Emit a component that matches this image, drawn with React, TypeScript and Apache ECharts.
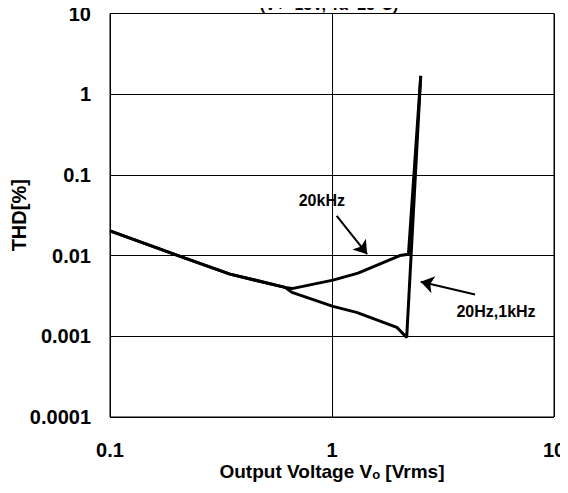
import React, { useEffect, useRef } from "react";
import * as echarts from "echarts";

const commonX = [0.1, 0.207, 0.347, 0.614];
const commonY = [0.0203, 0.0098, 0.0059, 0.00404];
const lowX = [0.66, 1.01, 1.29, 1.96, 2.06, 2.17, 2.51];
const lowY = [0.0035, 0.00235, 0.00198, 0.00129, 0.00112, 0.00097, 1.69];
const highX = [0.66, 1.01, 1.31, 2.02, 2.21, 2.51];
const highY = [0.0039, 0.00497, 0.00607, 0.01, 0.0104, 1.69];
const xTicks = [0.1, 1, 10];
const yTicks = [0.0001, 0.001, 0.01, 0.1, 1, 10];
const labelHigh = "20kHz";
const labelLow = "20Hz,1kHz";
const arrowHigh = [[1.05, 0.0311], [1.44, 0.0104]];
const arrowLow = [[4.41, 0.0033], [2.51, 0.00473]];
const labelHighPos = [0.9, 0.0488];
const labelLowPos = [5.48, 0.00201];

const FONT = "'Liberation Sans', Arial, sans-serif";

function pairs(xs: number[], ys: number[]) {
  return xs.map((x, i) => [x, ys[i]]);
}

export default function App() {
  const ref = useRef<HTMLDivElement>(null);
  useEffect(() => {
    if (!ref.current) return;
    const chart = echarts.init(ref.current, undefined, { renderer: "svg" });
    const fmt = (v: number) => String(+v.toPrecision(6));
    const lineStyle = { color: "#000", width: 3 };
    chart.setOption({
      animation: false,
      backgroundColor: "#fff",
      textStyle: { fontFamily: FONT },
      grid: {
        left: 110,
        right: 14,
        top: 13.5,
        bottom: 76,
        containLabel: false,
        outerBoundsMode: "none",
        show: true,
        borderColor: "#000",
        borderWidth: 1,
      },
      graphic: [
        {
          type: "text",
          x: 329,
          y: 12.5,
          style: {
            text: "(V+=15V, Ta=25°C)",
            font: `bold 16px ${FONT}`,
            fill: "#000",
            align: "center",
            verticalAlign: "bottom",
          },
        },
      ],
      xAxis: {
        type: "log",
        logBase: 10,
        min: xTicks[0],
        max: xTicks[xTicks.length - 1],
        name: "Output Voltage V{s|o} [Vrms]",
        nameLocation: "middle",
        nameGap: 45,
        nameMoveOverlap: false,
        nameTextStyle: {
          fontFamily: FONT,
          fontWeight: "bold",
          fontSize: 19,
          color: "#000",
          rich: {
            s: { fontFamily: FONT, fontWeight: "bold", fontSize: 13, color: "#000", verticalAlign: "bottom" },
          },
        },
        axisLine: { show: false },
        axisTick: { show: false },
        axisLabel: {
          formatter: fmt,
          fontFamily: FONT,
          fontWeight: "bold",
          fontSize: 20,
          color: "#000",
          margin: 23,
        },
        splitLine: { show: true, lineStyle: { color: "#000", width: 1 } },
        minorSplitLine: { show: false },
      },
      yAxis: {
        type: "log",
        logBase: 10,
        min: yTicks[0],
        max: yTicks[yTicks.length - 1],
        name: "THD[%]",
        nameLocation: "middle",
        nameGap: 81,
        nameMoveOverlap: false,
        nameRotate: 90,
        nameTextStyle: {
          fontFamily: FONT,
          fontWeight: "bold",
          fontSize: 20,
          color: "#000",
        },
        axisLine: { show: false },
        axisTick: { show: false },
        axisLabel: {
          formatter: fmt,
          fontFamily: FONT,
          fontWeight: "bold",
          fontSize: 20,
          color: "#000",
          margin: 19,
        },
        splitLine: { show: true, lineStyle: { color: "#000", width: 1 } },
      },
      series: [
        {
          type: "line",
          name: labelLow,
          data: pairs(commonX.concat(lowX), commonY.concat(lowY)),
          showSymbol: false,
          symbol: "none",
          lineStyle,
          markLine: {
            silent: true,
            symbol: ["none", "arrow"],
            symbolSize: 13,
            label: { show: false },
            lineStyle: { color: "#000", width: 2, type: "solid" },
            data: [
              [{ coord: arrowHigh[0] }, { coord: arrowHigh[1] }],
              [{ coord: arrowLow[0] }, { coord: arrowLow[1] }],
            ],
          },
          markPoint: {
            silent: true,
            symbol: "circle",
            symbolSize: 0,
            label: {
              show: true,
              position: "inside",
              fontFamily: FONT,
              fontWeight: "bold",
              fontSize: 16,
              color: "#000",
              formatter: (p: any) => p.name,
            },
            data: [
              { name: labelHigh, coord: labelHighPos },
              { name: labelLow, coord: labelLowPos },
            ],
          },
        },
        {
          type: "line",
          name: labelHigh,
          data: pairs(commonX.concat(highX), commonY.concat(highY)),
          showSymbol: false,
          symbol: "none",
          lineStyle,
        },
      ],
    });
    return () => chart.dispose();
  }, []);
  return <div ref={ref} style={{ width: 568, height: 493, margin: -8 }} />;
}
